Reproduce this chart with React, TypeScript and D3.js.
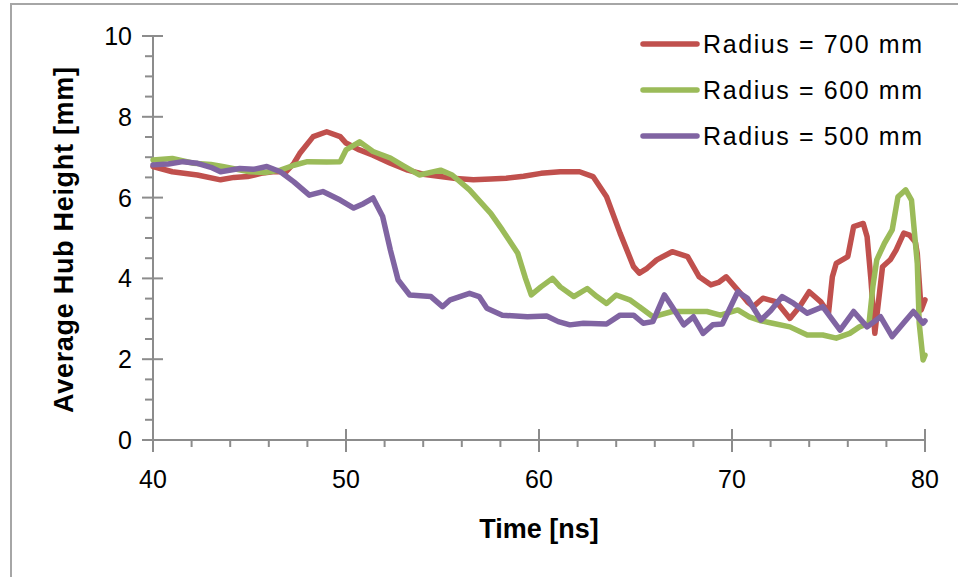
import React from "react";
import * as d3 from "d3";

const xTicks = [40, 50, 60, 70, 80];
const yTicks = [0, 2, 4, 6, 8, 10];
const seriesNames = ["Radius = 700 mm", "Radius = 600 mm", "Radius = 500 mm"];
const seriesColors = ["#C0504D", "#9BBB59", "#8064A2"];

const r700: [number, number][] = [
  [40, 6.77], [41, 6.64], [42.3, 6.56], [43.5, 6.44], [44.2, 6.5], [44.9, 6.52], [45.6, 6.6], [46.2, 6.64],
  [46.9, 6.64], [47.3, 6.85], [47.6, 7.09], [48.3, 7.51], [49.0, 7.63], [49.7, 7.51], [50.0, 7.35], [50.7, 7.18],
  [51.4, 7.05], [52.3, 6.85], [53.2, 6.68], [54.0, 6.58], [54.9, 6.52], [55.7, 6.47], [56.6, 6.44], [57.5, 6.46],
  [58.3, 6.48], [59.2, 6.53], [60.1, 6.6], [61.1, 6.64], [62.1, 6.64], [62.8, 6.52], [63.5, 6.02], [64.2, 5.12],
  [64.9, 4.29], [65.2, 4.13], [65.6, 4.25], [66.1, 4.46], [66.9, 4.66], [67.7, 4.54], [68.3, 4.04], [68.9, 3.84],
  [69.3, 3.9], [69.7, 4.04], [70.3, 3.71], [70.8, 3.42], [71.1, 3.3], [71.6, 3.51], [72.3, 3.42], [73.0, 3.01],
  [73.5, 3.3], [74.0, 3.67], [74.6, 3.42], [75.0, 3.14], [75.2, 4.04], [75.4, 4.37], [76.0, 4.54], [76.3, 5.28],
  [76.8, 5.36], [77.0, 5.03], [77.2, 3.96], [77.4, 2.64], [77.6, 3.47], [77.8, 4.29], [78.2, 4.46], [78.5, 4.7],
  [78.9, 5.12], [79.2, 5.07], [79.5, 4.9], [79.6, 4.62], [79.8, 3.22], [80, 3.47],
];

const r600: [number, number][] = [
  [40, 6.93], [41, 6.97], [42.1, 6.85], [43.0, 6.82], [43.6, 6.77], [45.0, 6.64], [45.8, 6.62], [46.6, 6.68],
  [47.3, 6.8], [48.0, 6.89], [49.0, 6.88], [49.7, 6.89], [50.0, 7.18], [50.7, 7.38], [51.4, 7.14], [52.3, 6.98],
  [53.0, 6.78], [53.8, 6.56], [54.9, 6.68], [55.5, 6.56], [56.4, 6.19], [57.5, 5.61], [58.1, 5.2], [58.9, 4.62],
  [59.3, 4.0], [59.6, 3.59], [60.1, 3.79], [60.7, 4.0], [61.1, 3.79], [61.8, 3.55], [62.5, 3.75], [63.0, 3.55],
  [63.5, 3.38], [64.0, 3.59], [64.7, 3.47], [65.2, 3.3], [65.9, 3.05], [66.9, 3.18], [67.8, 3.18], [68.7, 3.18],
  [69.4, 3.09], [70.3, 3.22], [70.9, 3.05], [71.5, 2.95], [72.1, 2.89], [73.0, 2.8], [73.9, 2.6], [74.7, 2.6],
  [75.4, 2.52], [76.1, 2.64], [76.6, 2.8], [77.1, 2.89], [77.3, 3.8], [77.5, 4.46], [77.9, 4.87], [78.3, 5.2],
  [78.6, 6.02], [79.0, 6.19], [79.3, 5.94], [79.6, 4.37], [79.7, 2.89], [79.9, 1.98], [80, 2.1],
];

const r500: [number, number][] = [
  [40, 6.81], [40.8, 6.83], [41.55, 6.89], [42.3, 6.85], [43.0, 6.75], [43.5, 6.64], [44.5, 6.72], [45.2, 6.7],
  [45.9, 6.77], [46.6, 6.64], [47.3, 6.39], [48.1, 6.06], [48.8, 6.15], [49.7, 5.94], [50.4, 5.74], [50.9, 5.85],
  [51.4, 5.99], [51.9, 5.53], [52.3, 4.7], [52.7, 3.96], [53.3, 3.59], [54.4, 3.55], [55.0, 3.3], [55.4, 3.47],
  [56.4, 3.63], [56.9, 3.55], [57.3, 3.26], [58.1, 3.09], [59.4, 3.05], [60.4, 3.07], [61.0, 2.93], [61.6, 2.85],
  [62.3, 2.89], [63.5, 2.87], [64.2, 3.09], [64.9, 3.09], [65.4, 2.89], [65.9, 2.93], [66.5, 3.59], [66.9, 3.3],
  [67.5, 2.85], [68.0, 3.05], [68.5, 2.64], [69.0, 2.85], [69.5, 2.87], [70.3, 3.67], [70.8, 3.51], [71.5, 2.97],
  [72.0, 3.2], [72.6, 3.55], [73.2, 3.38], [73.9, 3.14], [74.7, 3.3], [75.6, 2.72], [76.3, 3.18], [77.0, 2.8],
  [77.7, 3.05], [78.3, 2.56], [78.9, 2.9], [79.4, 3.18], [79.9, 2.89], [80, 2.95],
];

const seriesData = [r700, r600, r500];

export default function App() {
  const W = 958, H = 577;
  const x = d3.scaleLinear().domain([40, 80]).range([153, 925]);
  const y = d3.scaleLinear().domain([0, 10]).range([440, 36]);
  const line = d3.line<[number, number]>().x(d => x(d[0])).y(d => y(d[1]));
  const xMinor = d3.range(40, 80.01, 2).filter(v => v % 10 !== 0);
  const yMinor = d3.range(0, 10.01, 0.5).filter(v => v % 2 !== 0);
  const font = "'Liberation Sans', Arial, sans-serif";
  const axisColor = "#8c8c8c";

  return (
    <svg width={W} height={H} style={{ position: "absolute", left: 0, top: 0, background: "#fff" }} fontFamily={font}>
      <rect x={0} y={0} width={W} height={H} fill="#fff" />
      <line x1={10} x2={W} y1={4} y2={4} stroke="#a6a6a6" strokeWidth={2} />
      <line x1={11} x2={11} y1={4} y2={H} stroke="#a6a6a6" strokeWidth={2} />

      {/* y axis */}
      <line x1={x(40)} x2={x(40)} y1={y(10)} y2={y(0)} stroke={axisColor} strokeWidth={2} />
      {yTicks.map(t => (
        <line key={"ym" + t} x1={x(40) - 11} x2={x(40) + 10} y1={y(t)} y2={y(t)} stroke={axisColor} strokeWidth={2} />
      ))}
      {yMinor.map(t => (
        <line key={"yn" + t} x1={x(40) - 8} x2={x(40)} y1={y(t)} y2={y(t)} stroke={axisColor} strokeWidth={2} />
      ))}
      {yTicks.map(t => (
        <text key={"yl" + t} x={132} y={y(t) + 9} textAnchor="end" fontSize={25} fill="#000">{t}</text>
      ))}

      {/* x axis */}
      <line x1={x(40)} x2={x(80)} y1={y(0)} y2={y(0)} stroke={axisColor} strokeWidth={2} />
      {xTicks.map(t => (
        <line key={"xm" + t} x1={x(t)} x2={x(t)} y1={y(0) - 11} y2={y(0) + 12} stroke={axisColor} strokeWidth={2} />
      ))}
      {xMinor.map(t => (
        <line key={"xn" + t} x1={x(t)} x2={x(t)} y1={y(0)} y2={y(0) + 7} stroke={axisColor} strokeWidth={2} />
      ))}
      {xTicks.map(t => (
        <text key={"xl" + t} x={x(t)} y={488} textAnchor="middle" fontSize={25} fill="#000">{t}</text>
      ))}

      {/* series */}
      {seriesData.map((d, i) => (
        <path key={"s" + i} d={line(d) || ""} fill="none" stroke={seriesColors[i]} strokeWidth={5.5}
          strokeLinejoin="round" strokeLinecap="round" />
      ))}

      {/* axis titles */}
      <text x={539} y={538} textAnchor="middle" fontSize={27} fontWeight="bold" fill="#000">Time [ns]</text>
      <text transform={`translate(73,240) rotate(-90)`} textAnchor="middle" fontSize={27} fontWeight="bold"
        fill="#000" textLength={346} lengthAdjust="spacing">Average Hub Height [mm]</text>

      {/* legend */}
      {seriesNames.map((n, i) => (
        <g key={"lg" + i}>
          <line x1={643} x2={697} y1={44 + i * 46} y2={44 + i * 46} stroke={seriesColors[i]} strokeWidth={5.5} strokeLinecap="round" />
          <text x={703} y={44 + i * 46 + 9} fontSize={25} fill="#000" textLength={219} lengthAdjust="spacing">{n}</text>
        </g>
      ))}
    </svg>
  );
}
